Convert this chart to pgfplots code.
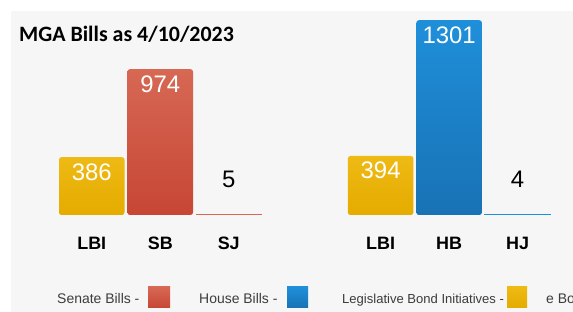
\documentclass[border=0pt]{standalone}
\usepackage{pgfplots}
\pgfplotsset{compat=1.18}
\usepackage{fontspec}
\setmainfont{Liberation Sans}
\newfontfamily\titlefont{Carlito}
\definecolor{bg}{RGB}{246,246,246}
\definecolor{ylTop}{RGB}{238,186,20}
\definecolor{ylBot}{RGB}{229,171,0}
\definecolor{rdTop}{RGB}{214,104,84}
\definecolor{rdBot}{RGB}{199,70,52}
\definecolor{blTop}{RGB}{31,143,218}
\definecolor{blBot}{RGB}{25,114,180}
\definecolor{legtext}{RGB}{60,60,60}
\begin{document}
\begin{tikzpicture}
\useasboundingbox (0,0) rectangle (573bp,312bp);
\clip (0,0) rectangle (573bp,312bp);
\fill[white] (0,0) rectangle (573bp,312bp);
\fill[bg] (11bp,0) rectangle (573bp,301bp);
\begin{axis}[
  at={(0,0)}, anchor=south west,
  scale only axis, width=573bp, height=312bp,
  xmin=-1.3394, xmax=7.0255, ymin=-648, ymax=1436,
  axis line style={draw=none}, tick style={draw=none},
  ytick=\empty,
  xtick={0,1,2,4.217,5.217,6.217},
  xticklabels={LBI,SB,SJ,LBI,HB,HJ},
  xticklabel style={anchor=base, yshift=62bp, font=\fontsize{18}{18}\selectfont\bfseries, text=black},
  /pgf/number format/assume math mode=true,
  /pgf/number format/1000 sep={},
  clip=false,
  bigbar/.style={ybar, bar shift=0pt, bar width=65.5bp, draw=none, rounded corners=2.5bp,
    nodes near coords,
    every node near coord/.append style={anchor=base, yshift=-23bp, text=white, font=\fontsize{24}{24}\selectfont}},
  tinybar/.style={ybar, bar shift=0pt, bar width=65.5bp, line width=1bp,
    nodes near coords,
    every node near coord/.append style={anchor=base, yshift=27bp, text=black, font=\fontsize{24}{24}\selectfont}},
]
\addplot[bigbar, top color=ylTop, bottom color=ylBot] coordinates {(0,386) (4.217,394)};
\addplot[bigbar, top color=rdTop, bottom color=rdBot] coordinates {(1,974)};
\addplot[bigbar, top color=blTop, bottom color=blBot] coordinates {(5.217,1301)};
\addplot[tinybar, fill=rdTop, draw=rdTop] coordinates {(2,5)};
\addplot[tinybar, fill=blTop, draw=blTop] coordinates {(6.217,4)};
\end{axis}
\node[anchor=base west, inner sep=0, font=\titlefont\bfseries\fontsize{22}{22}\selectfont] at (19bp,270bp) {MGA Bills as 4/10/2023};
\begin{scope}[every node/.style={anchor=base west, inner sep=0, text=legtext, font=\fontsize{14}{14}\selectfont}]
\node at (57bp,9bp) {Senate Bills -};
\fill[top color=rdTop, bottom color=rdBot] (148bp,4bp) rectangle (170bp,25bp);
\node at (199bp,9bp) {House Bills -};
\fill[top color=blTop, bottom color=blBot] (287bp,4bp) rectangle (308bp,25bp);
\node[font=\fontsize{13.1}{13.1}\selectfont] at (342bp,9bp) {Legislative Bond Initiatives -};
\fill[top color=ylTop, bottom color=ylBot] (507bp,4bp) rectangle (527bp,25bp);
\node at (546bp,9bp) {e Bo};
\end{scope}
\end{tikzpicture}
\end{document}
